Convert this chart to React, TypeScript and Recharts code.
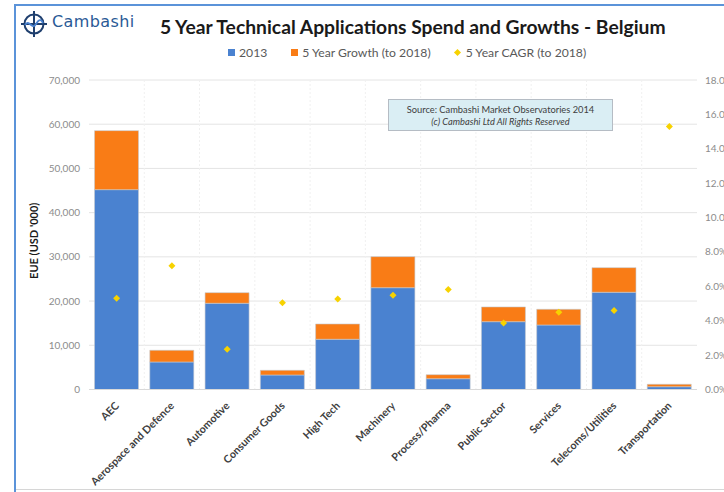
import { ComposedChart, Bar, Scatter, XAxis, YAxis, CartesianGrid } from "recharts";

const categories = [
  "AEC",
  "Aerospace and Defence",
  "Automotive",
  "Consumer Goods",
  "High Tech",
  "Machinery",
  "Process/Pharma",
  "Public Sector",
  "Services",
  "Telecoms/Utilities",
  "Transportation",
];
// EUE (USD '000)
const spend2013 = [45200, 6220, 19500, 3280, 11360, 23030, 2440, 15340, 14590, 21990, 630];
const growthTo2018 = [13350, 2650, 2400, 1060, 3460, 7020, 910, 3330, 3550, 5570, 550];
// CAGR in %
const cagrTo2018 = [5.3, 7.2, 2.34, 5.05, 5.27, 5.48, 5.81, 3.87, 4.49, 4.59, 15.29];

const spendTicks = [0, 10000, 20000, 30000, 40000, 50000, 60000, 70000];
const cagrTicks = [0, 2, 4, 6, 8, 10, 12, 14, 16, 18];

const seriesNames = ["2013", "5 Year Growth (to 2018)", "5 Year CAGR (to 2018)"];
const BLUE = "#4a82d0";
const ORANGE = "#f97c16";
const YELLOW = "#f7d200";
const FONT = "Lato, 'Open Sans', sans-serif";

const data = categories.map((name, i) => ({
  name,
  y2013: spend2013[i],
  growth: growthTo2018[i],
  cagr: cagrTo2018[i],
}));

const CategoryTick = (props: any) => {
  const { x, y, payload } = props;
  return (
    <g transform={`translate(${x + 3},${y + 17})`}>
      <text
        textAnchor="end"
        transform="rotate(-45)"
        fontSize={10.7}
        fontWeight={700}
        fill="#404040"
        fontFamily={FONT}
      >
        {payload.value}
      </text>
    </g>
  );
};

const Diamond = (props: any) => {
  const { cx, cy } = props;
  const r = 3.5;
  return (
    <polygon
      points={`${cx},${cy - r} ${cx + r},${cy} ${cx},${cy + r} ${cx - r},${cy}`}
      fill={YELLOW}
    />
  );
};

const Logo = () => (
  <svg width={30} height={30} viewBox="0 0 30 30" style={{ position: "absolute", left: 19, top: 9 }}>
    <circle cx={15} cy={15} r={9.5} fill="none" stroke="#1f3f6e" strokeWidth={2} />
    <line x1={15} y1={2} x2={15} y2={28} stroke="#1f3f6e" strokeWidth={2} />
    <line x1={2} y1={15} x2={28} y2={15} stroke="#1f3f6e" strokeWidth={2} />
    <path d="M6 16 C 10 9, 13 22, 17 15 S 23 12, 24 14" fill="none" stroke="#4a82d0" strokeWidth={1.8} />
  </svg>
);

const legendSwatch = (i: number) => {
  if (i === 2) {
    return (
      <span
        style={{
          display: "inline-block",
          width: 5,
          height: 5,
          background: YELLOW,
          transform: "rotate(45deg)",
          marginRight: 6,
        }}
      />
    );
  }
  return (
    <span
      style={{
        display: "inline-block",
        width: 7,
        height: 7,
        background: i === 0 ? BLUE : ORANGE,
        marginRight: 4,
      }}
    />
  );
};

export default function App() {
  return (
    <div
      style={{
        position: "absolute",
        left: 0,
        top: 0,
        width: 724,
        height: 492,
        background: "#fff",
        overflow: "hidden",
        fontFamily: FONT,
      }}
    >
      {/* frame */}
      <div style={{ position: "absolute", left: 14, top: 4, width: 2, height: 488, background: "#5b93d9" }} />
      <div style={{ position: "absolute", left: 14, top: 4, width: 710, height: 2, background: "#5b93d9" }} />
      <div style={{ position: "absolute", left: 16, top: 489, width: 708, height: 1, background: "#d6d6d6" }} />

      <Logo />
      <div
        style={{
          position: "absolute",
          left: 52,
          top: 12,
          fontSize: 16,
          color: "#2a5a96",
          letterSpacing: 0.4,
          fontFamily: "'DejaVu Sans', sans-serif",
        }}
      >
        Cambashi
      </div>

      <div
        style={{
          position: "absolute",
          left: 160,
          top: 15,
          fontSize: 19.3,
          fontWeight: 700,
          color: "#1a1a1a",
          whiteSpace: "nowrap",
        }}
      >
        5 Year Technical Applications Spend and Growths - Belgium
      </div>

      <div
        style={{
          position: "absolute",
          left: 228,
          top: 45,
          display: "flex",
          alignItems: "center",
          fontSize: 12.2,
          color: "#595959",
          whiteSpace: "nowrap",
        }}
      >
        {seriesNames.map((s, i) => (
          <span key={s} style={{ display: "inline-flex", alignItems: "center", marginRight: 24 }}>
            {legendSwatch(i)}
            {s}
          </span>
        ))}
      </div>

      <div
        style={{
          position: "absolute",
          left: 388,
          top: 99,
          width: 225,
          height: 32,
          background: "#daeef4",
          border: "1px solid #b5bcc4",
          fontSize: 9.3,
          color: "#404040",
          textAlign: "center",
          lineHeight: "12px",
          paddingTop: 4,
          boxSizing: "border-box",
          zIndex: 2,
        }}
      >
        <div>Source: Cambashi Market Observatories 2014</div>
        <div style={{ fontStyle: "italic" }}>(c) Cambashi Ltd All Rights Reserved</div>
      </div>

      <div style={{ position: "absolute", left: 0, top: 0 }}>
        <ComposedChart
          width={724}
          height={492}
          data={data}
          margin={{ top: 80, right: 0, bottom: 2.5, left: 29 }}
          barCategoryGap="10%"
        >
          <CartesianGrid vertical={false} stroke="#e4e4e4" />
          <CartesianGrid
            horizontal={false}
            stroke="#f0f0f0"
            strokeDasharray="2 2"
            verticalCoordinatesGenerator={({ offset }: any) =>
              categories.slice(1).map((_, i) => offset.left + ((i + 1) * offset.width) / categories.length)
            }
          />
          <XAxis
            dataKey="name"
            interval={0}
            axisLine={{ stroke: "#d9d9d9" }}
            tickLine={false}
            tickSize={0}
            tickMargin={0}
            height={100}
            tick={<CategoryTick />}
          />
          <YAxis
            domain={[0, 70000]}
            ticks={spendTicks}
            width={60}
            axisLine={false}
            tickLine={false}
            tickSize={0}
            tickMargin={9}
            tick={{ fill: "#8c8c8c", fontSize: 10, fontFamily: FONT }}
            tickFormatter={(v: number) => v.toLocaleString("en-US")}
            label={{
              value: "EUE (USD '000)",
              angle: -90,
              position: "insideLeft",
              offset: 5,
              dy: 6,
              style: { textAnchor: "middle", fontWeight: 700, fontSize: 11, fill: "#1a1a1a", fontFamily: FONT },
            }}
          />
          <YAxis
            yAxisId="right"
            orientation="right"
            domain={[0, 18]}
            ticks={cagrTicks}
            width={27}
            axisLine={false}
            tickLine={false}
            tickSize={0}
            tickMargin={8}
            tick={{ fill: "#8c8c8c", fontSize: 10, fontFamily: FONT }}
            tickFormatter={(v: number) => `${v.toFixed(1)}%`}
          />
          <Bar dataKey="y2013" name={seriesNames[0]} stackId="a" fill={BLUE} stroke="#c4c9d0" strokeWidth={0.6} isAnimationActive={false} />
          <Bar dataKey="growth" name={seriesNames[1]} stackId="a" fill={ORANGE} stroke="#c4c9d0" strokeWidth={0.6} isAnimationActive={false} />
          <Scatter yAxisId="right" dataKey="cagr" name={seriesNames[2]} shape={<Diamond />} isAnimationActive={false} />
        </ComposedChart>
      </div>
    </div>
  );
}
